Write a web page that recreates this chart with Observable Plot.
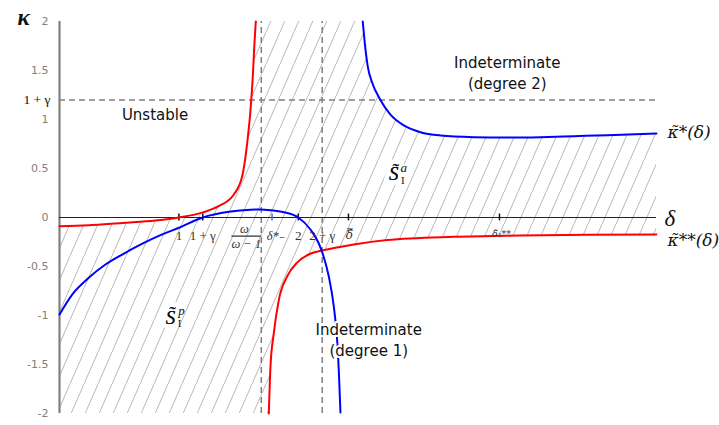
<!DOCTYPE html>
<html>
<head>
<meta charset="utf-8">
<script src="https://cdn.jsdelivr.net/npm/d3@7"></script>
<script src="https://cdn.jsdelivr.net/npm/@observablehq/plot@0.6"></script>
<style>
  html, body { margin: 0; padding: 0; background: #fff; }
</style>
</head>
<body>
<div id="chart"></div>
<script>
// κ*(δ) — blue curve, two branches (asymptote at δ̿)
const kappaStarLeft = [
  [0, -0.99], [0.106, -0.786], [0.245, -0.615], [0.385, -0.48], [0.525, -0.378],
  [0.69, -0.27], [0.86, -0.173], [1.0, -0.105], [1.2, 0], [1.418, 0.058],
  [1.6, 0.08], [1.68, 0.082], [1.767, 0.075], [1.88, 0.054], [2.0, 0],
  [2.10, -0.12], [2.17, -0.26], [2.21, -0.39], [2.255, -0.6], [2.297, -0.905],
  [2.325, -1.245], [2.34, -1.585], [2.353, -1.99]
];
const kappaStarRight = [
  [2.54, 2.0], [2.557, 1.78], [2.582, 1.54], [2.619, 1.375], [2.683, 1.21],
  [2.772, 1.05], [2.884, 0.94], [3.023, 0.87], [3.19, 0.837], [3.47, 0.82],
  [3.75, 0.816], [4.03, 0.82], [4.31, 0.83], [4.59, 0.84], [5.0, 0.857]
];
// κ**(δ) — red curve, two branches (asymptote at ω/(ω−1))
const kappaStar2Left = [
  [0, -0.09], [0.243, -0.08], [0.525, -0.055], [0.804, -0.03], [1.0, 0],
  [1.195, 0.05], [1.332, 0.115], [1.46, 0.235], [1.53, 0.42], [1.572, 0.76],
  [1.60, 1.10], [1.619, 1.44], [1.633, 1.78], [1.644, 2.0]
];
const kappaStar2Right = [
  [1.753, -2.0], [1.767, -1.52], [1.795, -1.18], [1.837, -0.84], [1.907, -0.60],
  [1.99, -0.46], [2.10, -0.37], [2.2, -0.337], [2.465, -0.275], [2.745, -0.23],
  [3.30, -0.197], [3.86, -0.184], [4.42, -0.177], [5.0, -0.173]
];

// parameters and special points on the δ axis
const onePlusGamma = 1.2;       // 1 + γ
const twoPlusGamma = 2.2;       // 2 + γ
const omegaRatio = 1.69;        // ω/(ω−1)
const deltaStarMinus = 1.78;    // δ*₋
const deltaBar = 2.42;          // δ̿
const deltaTildeOne = 3.685;    // δ̃₁**

const yTicks = [-2, -1.5, -1, -0.5, 0, 0.5, 1, 1.5, 2];
const xTickMarks = [1, onePlusGamma, 2, deltaBar, deltaTildeOne];
const xTickLabels = [
  {x: 1, text: "1"},
  {x: onePlusGamma, text: "1 + γ"},
  {x: 2, text: "2"},
  {x: twoPlusGamma, text: "2 + γ"}
];

const pts = (arr) => arr.map(([d, k]) => ({d, k}));
const leftHatch = pts([...kappaStar2Left, [omegaRatio, 2]]);
const rightHatch = pts([[omegaRatio, -2], ...kappaStar2Right]);

const serif = "'Liberation Serif', 'DejaVu Serif', serif";
const mathSerif = "'DejaVu Serif', serif";
const sans = "'DejaVu Sans', Verdana, sans-serif";
const grey = "#808080";

const hatchDefs = () => {
  const defs = d3.create("svg:defs");
  const p = defs.append("pattern")
    .attr("id", "hatch")
    .attr("patternUnits", "userSpaceOnUse")
    .attr("width", 14).attr("height", 32);
  p.append("line")
    .attr("x1", 0).attr("y1", 32).attr("x2", 14).attr("y2", 0)
    .attr("stroke", "#a6a6a6").attr("stroke-width", 0.8);
  return defs.node();
};

const chart = Plot.plot({
  width: 719,
  height: 425,
  marginLeft: 59,
  marginRight: 63,
  marginTop: 21,
  marginBottom: 12,
  x: {domain: [0, 5], axis: null, label: null},
  y: {domain: [-2, 2], axis: null, label: null},
  style: {background: "#fff", fontFamily: sans},
  marks: [
    hatchDefs,
    // hatched regions
    Plot.areaY(leftHatch, {x: "d", y1: -2, y2: "k", fill: "url(#hatch)", curve: "monotone-x"}),
    Plot.areaY(rightHatch, {x: "d", y1: "k", y2: 2, fill: "url(#hatch)", curve: "monotone-x"}),
    Plot.areaY(pts(kappaStarRight), {x: "d", y1: "k", y2: 2, fill: "#fff", curve: "monotone-x"}),

    // dashed guides
    Plot.ruleY([onePlusGamma], {x1: 0, x2: 5, stroke: grey, strokeWidth: 1.5, strokeDasharray: "6,4"}),
    Plot.ruleX([omegaRatio, twoPlusGamma], {y1: -2, y2: 2, stroke: grey, strokeWidth: 1.5, strokeDasharray: "6,4"}),

    // axes
    Plot.ruleX([0], {y1: -2, y2: 2, stroke: grey, strokeWidth: 2.2}),
    Plot.ruleY([0], {x1: 0, x2: 5, stroke: "#222", strokeWidth: 1.2}),
    Plot.ruleX(xTickMarks, {y1: -0.035, y2: 0.035, stroke: "#111", strokeWidth: 1.5}),
    Plot.ruleX([deltaStarMinus], {y1: -0.035, y2: 0.035, stroke: "#4472c4", strokeWidth: 1.5}),
    Plot.axisY(yTicks, {label: null, tickSize: 0, tickPadding: 11, fontSize: 11, fill: grey, tickFormat: d => String(d)}),

    // curves
    Plot.line(pts(kappaStar2Left), {x: "d", y: "k", stroke: "#ff0000", strokeWidth: 2, curve: "monotone-x"}),
    Plot.line(pts(kappaStar2Right), {x: "d", y: "k", stroke: "#ff0000", strokeWidth: 2, curve: "monotone-x"}),
    Plot.line(pts(kappaStarLeft), {x: "d", y: "k", stroke: "#0000ff", strokeWidth: 2, curve: "monotone-x"}),
    Plot.line(pts(kappaStarRight), {x: "d", y: "k", stroke: "#0000ff", strokeWidth: 2, curve: "monotone-x"}),

    // δ-axis tick labels
    Plot.text(xTickLabels, {x: "x", y: 0, text: "text", dy: 18, fontFamily: serif, fontSize: 13, fill: "#333"}),
    Plot.text(["δ\u033F"], {x: deltaBar, y: 0, dx: 1, dy: 18, fontFamily: mathSerif, fontStyle: "italic", fontSize: 12, fill: "#333"}),
    Plot.text(["ω"], {x: omegaRatio, y: 0, dx: -17, dy: 11, fontFamily: serif, fontStyle: "italic", fontSize: 12.5, fill: "#333"}),
    Plot.text(["ω − 1"], {x: omegaRatio, y: 0, dx: -15, dy: 26, fontFamily: serif, fontStyle: "italic", fontSize: 12.5, fill: "#333", className: "frac-den"}),
    Plot.text(["δ*₋"], {x: deltaStarMinus, y: 0, dx: 4, dy: 18, fontFamily: serif, fontStyle: "italic", fontSize: 12.5, fill: "#333"}),
    Plot.text(["δ̃₁**"], {x: deltaTildeOne, y: 0, dx: 2, dy: 16, fontFamily: mathSerif, fontStyle: "italic", fontSize: 9.5, fill: "#333"}),
    Plot.text(["δ"], {x: 5, y: 0, dx: 8, dy: 1, textAnchor: "start", fontFamily: serif, fontStyle: "italic", fontSize: 23, fill: "#111"}),

    // κ-axis labels
    Plot.text(["1 + γ"], {x: 0, y: onePlusGamma, dx: -9, textAnchor: "end", fontFamily: serif, fontSize: 13.5, fill: "#111"}),
    Plot.text(["κ"], {frameAnchor: "top-left", dx: -42, dy: -13, fontFamily: serif, fontStyle: "italic", fontWeight: "bold", fontSize: 23, fill: "#111"}),

    // curve labels
    Plot.text(["κ̃*(δ)"], {x: 5, y: kappaStarRight[kappaStarRight.length - 1][1], dx: 11, dy: -1, textAnchor: "start", fontFamily: mathSerif, fontStyle: "italic", fontSize: 17, fill: "#111"}),
    Plot.text(["κ̃**(δ)"], {x: 5, y: kappaStar2Right[kappaStar2Right.length - 1][1], dx: 11, dy: 6, textAnchor: "start", fontFamily: mathSerif, fontStyle: "italic", fontSize: 17, fill: "#111"}),

    // region labels
    Plot.text(["Unstable"], {x: 0.8, y: 1.04, fontSize: 15, fill: "#111"}),
    Plot.text(["Indeterminate\n(degree 2)"], {x: 3.75, y: 1.49, fontSize: 15, lineHeight: 1.4, fill: "#111"}),
    Plot.text(["Indeterminate\n(degree 1)"], {x: 2.59, y: -1.235, fontSize: 15, lineHeight: 1.4, fill: "#111", stroke: "#fff", strokeWidth: 4}),

    // S̃ labels with a white backing
    Plot.text(["S̃"], {x: 2.8, y: 0.44, fontFamily: serif, fontStyle: "italic", fontSize: 19, fill: "#111", stroke: "#fff", strokeWidth: 10}),
    Plot.text(["S̃"], {x: 2.8, y: 0.44, fontFamily: serif, fontStyle: "italic", fontSize: 19, fill: "#111"}),
    Plot.text(["a"], {x: 2.8, y: 0.44, dx: 10, dy: -7, fontFamily: serif, fontStyle: "italic", fontSize: 13, fill: "#111"}),
    Plot.text(["I"], {x: 2.8, y: 0.44, dx: 9, dy: 6, fontFamily: serif, fontSize: 11, fill: "#111"}),
    Plot.text(["S̃"], {x: 0.93, y: -1.02, fontFamily: serif, fontStyle: "italic", fontSize: 19, fill: "#111", stroke: "#fff", strokeWidth: 10}),
    Plot.text(["S̃"], {x: 0.93, y: -1.02, fontFamily: serif, fontStyle: "italic", fontSize: 19, fill: "#111"}),
    Plot.text(["p"], {x: 0.93, y: -1.02, dx: 11, dy: -7, fontFamily: serif, fontStyle: "italic", fontSize: 13, fill: "#111"}),
    Plot.text(["I"], {x: 0.93, y: -1.02, dx: 9, dy: 6, fontFamily: serif, fontSize: 11, fill: "#111"})
  ]
});

d3.select(chart).selectAll(".frac-den text").style("text-decoration", "overline");
document.getElementById("chart").appendChild(chart);
</script>
</body>
</html>
